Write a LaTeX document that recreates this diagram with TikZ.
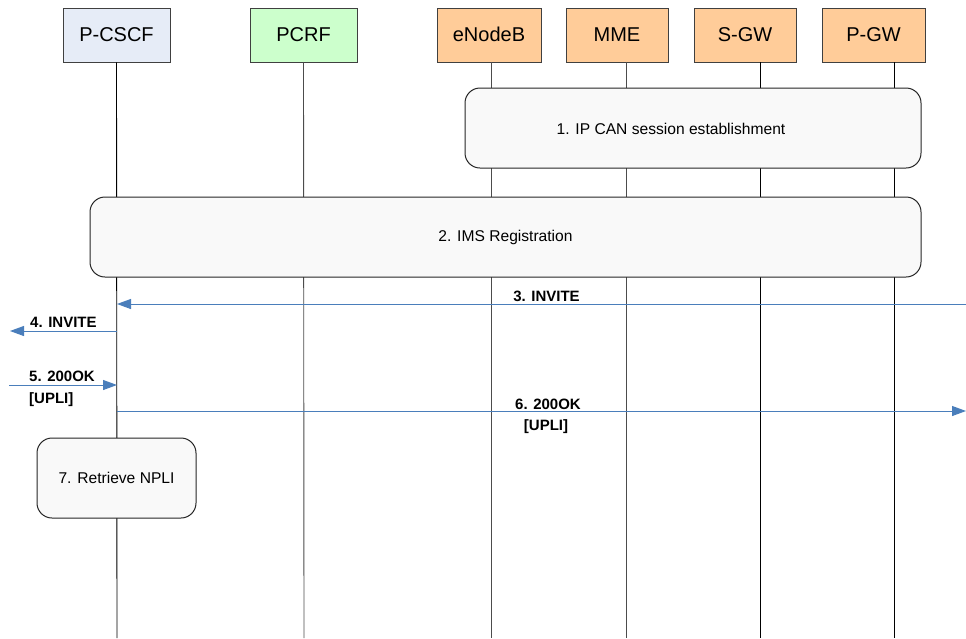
\documentclass[tikz,border=0pt]{standalone}
\usepackage{fontspec}
\setmainfont{Liberation Sans}
\usetikzlibrary{arrows.meta}
\definecolor{imsblue}{HTML}{E6ECF7}
\definecolor{pcrfgreen}{HTML}{CCFFCC}
\definecolor{epcorange}{HTML}{FFCC99}
\definecolor{msgblue}{HTML}{4A7EBB}
\definecolor{procfill}{HTML}{F9F9F9}
\tikzset{
  x=1pt, y=-1pt,
  entity/.style={draw=black!75, line width=0.8pt, minimum width=105pt, minimum height=54pt,
    inner sep=0pt, font=\fontsize{20}{24}\selectfont},
  lifeline/.style={draw=black!70, line width=0.9pt},
  proc/.style={draw=black!85, line width=1pt, fill=procfill, rounded corners=15pt,
    inner sep=0pt, font=\fontsize{15.6}{19}\selectfont},
  msg/.style={draw=msgblue, line width=1pt, -{Triangle[length=14pt,width=10pt]}},
  msglabel/.style={font=\bfseries\fontsize{15}{18}\selectfont, inner sep=0pt}
}
\begin{document}
\begin{tikzpicture}
\useasboundingbox (0,0) rectangle (966,638);

% entities
\node[entity, fill=imsblue, minimum width=107pt] (pcscf) at (116.5,35) {P-CSCF};
\node[entity, fill=pcrfgreen, minimum width=107pt] (pcrf) at (303.5,35) {PCRF};
\node[entity, fill=epcorange, minimum width=104pt] (enb) at (489,35) {\raisebox{2pt}{eNodeB}};
\node[entity, fill=epcorange, minimum width=102pt] (mme) at (617,35) {MME};
\node[entity, fill=epcorange, minimum width=102pt] (sgw) at (745,35) {S-GW};
\node[entity, fill=epcorange, minimum width=103pt] (pgw) at (873.5,35) {P-GW};

% lifeline ends
\coordinate (pcscfE) at (117,638);
\coordinate (pcrfE) at (304,638);
\coordinate (enbE) at (491,638);
\coordinate (mmeE) at (626,638);
\coordinate (sgwE) at (760,638);
\coordinate (pgwE) at (894,638);

\draw[lifeline, draw=black] (pcscf.south) -- (pcscfE);
\draw[lifeline] (pcrf.south) -- (pcrfE);
\draw[lifeline] (enb.south -| enbE) -- (enbE);
\draw[lifeline] (mme.south -| mmeE) -- (mmeE);
\draw[lifeline, draw=black] (sgw.south -| sgwE) -- (sgwE);
\draw[lifeline, draw=black] (pgw.south -| pgwE) -- (pgwE);

% procedures
\node[proc, minimum width=456pt, minimum height=80pt] (ipcan) at (693,128) {};
\node[font=\fontsize{15.6}{19}\selectfont, inner sep=0pt] (ipcanT) at (671,129) {1. IP CAN session establishment};
\node[proc, minimum width=831pt, minimum height=80pt] (ims) at (505.5,237) {2. IMS Registration};
\node[proc, minimum width=159pt, minimum height=80pt] (npli) at (116.5,478) {7. Retrieve NPLI};

% messages
\coordinate (m3s) at (966,304);
\coordinate (m4e) at (10,331);
\coordinate (m5s) at (9,385);
\coordinate (m6e) at (966,411);

\draw[msg] (m3s) -- (m3s -| pcscfE);
\node[msglabel] (l3) at (546.5,296) {3. INVITE};
\draw[msg] (m4e -| pcscfE) -- (m4e);
\node[msglabel, anchor=west] (l4) at (30,322) {4. INVITE};
\draw[msg] (m5s) -- (m5s -| pcscfE);
\node[msglabel, anchor=west] (l5a) at (29,376) {5. 200OK};
\node[msglabel, anchor=west] (l5b) at (29,400) {[UPLI]};
\draw[msg] (m6e -| pcscfE) -- (m6e);
\node[msglabel] (l6a) at (548,404) {6. 200OK};
\node[msglabel] (l6b) at (546,427) {[UPLI]};
\end{tikzpicture}
\end{document}
